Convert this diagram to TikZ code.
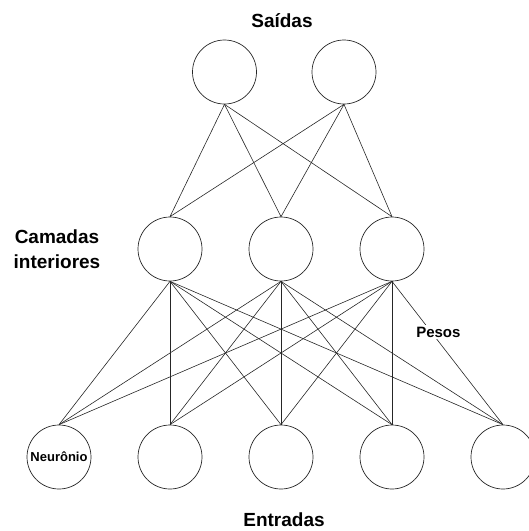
\documentclass[tikz,border=0pt]{standalone}
\usepackage{fontspec}
\setmainfont{Liberation Sans}
\begin{document}
\begin{tikzpicture}[x=1pt,y=-1pt,
  neuron/.style={circle,draw=black!85,line width=0.7pt,minimum size=64pt,inner sep=0pt},
  link/.style={draw=black!85,line width=0.6pt},
  title/.style={font=\bfseries\fontsize{19}{25}\selectfont,align=center,inner sep=0pt}]
\useasboundingbox (0,0) rectangle (529,531);
% output layer
\node[neuron] (o1) at (224.5,72) {};
\node[neuron] (o2) at (344,72) {};
% hidden layer
\node[neuron] (h1) at (170,249) {};
\node[neuron] (h2) at (281,249) {};
\node[neuron] (h3) at (392,249) {};
% input layer
\node[neuron,font=\bfseries\fontsize{13}{15}\selectfont] (i1) at (59,457) {Neurônio};
\node[neuron] (i2) at (170,457) {};
\node[neuron] (i3) at (281,457) {};
\node[neuron] (i4) at (392,457) {};
\node[neuron] (i5) at (503,457) {};
% layer titles
\node[title] (tout) at (282,20.5) {Saídas};
\node[title] (thid) at (57,249.5) {Camadas\\interiores};
\node[title] (tin) at (284,519.5) {Entradas};
% output-to-hidden weights
\foreach \o in {o1,o2}
  \foreach \h in {h1,h2,h3}
    \draw[link] (\o.south) -- (\h.north);
% hidden-to-input weights
\foreach \h in {h1,h2,h3}
  \foreach \i in {i1,i2,i3,i4,i5}
    \draw[link] (\h.south) -- (\i.north);
\path (h3.south) -- (i5.north)
  node[pos=0.355,xshift=7pt,fill=white,inner sep=1.5pt,font=\bfseries\fontsize{15}{17}\selectfont] (pesos) {Pesos};
\end{tikzpicture}
\end{document}
